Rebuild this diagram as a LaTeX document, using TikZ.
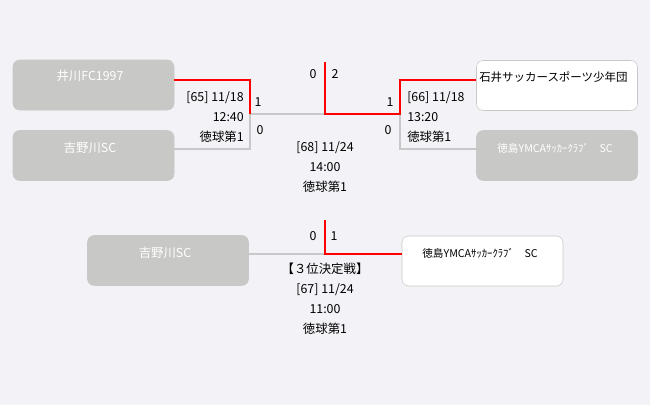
\documentclass[tikz,border=0pt]{standalone}
\usepackage{fontspec}
\setmainfont{Noto Sans CJK JP}
\usepackage{xcolor}
\usetikzlibrary{positioning}

\definecolor{bgcol}{RGB}{243,242,246}
\definecolor{boxgray}{RGB}{200,201,198}
\definecolor{linegray}{RGB}{200,200,200}
\definecolor{winred}{RGB}{255,0,0}

\tikzset{
  team/.style={draw=boxgray, fill=boxgray, rounded corners=5pt, minimum width=120.75pt, minimum height=37.5pt, inner sep=0pt},
  winner/.style={team, draw=linegray, fill=white},
  lose/.style={draw=linegray, line width=1.5pt},
  win/.style={draw=winred, line width=1.5pt},
  tname/.style={inner sep=0pt, font=\fontsize{9.3}{11}\selectfont},
  tsmall/.style={inner sep=0pt, font=\fontsize{8}{9}\selectfont},
  score/.style={inner sep=0pt, font=\fontsize{9.3}{11}\selectfont},
  info/.style={inner sep=0pt, font=\fontsize{9.3}{15}\selectfont}
}

\begin{document}
\begin{tikzpicture}[x=0.75pt,y=0.75pt,yscale=-1,xscale=1]
\fill[bgcol] (0,0) rectangle (650,405);
\useasboundingbox (0,0) rectangle (650,405);

% Teams
\node[team] (ikawa) at (93.5,85) {};
\node[team] (yoshino) at (93.5,155.5) {};
\node[winner] (ishii) at (557,85.5) {};
\node[team] (ymca) at (557,155.5) {};
\node[team] (yoshinob) at (168,260.5) {};
\node[winner] (ymcab) at (482.5,261) {};

\node[tname, text=white] (t1) at (90,76) {井川FC1997};
\node[tname, text=white] (t2) at (90,148) {吉野川SC};
\node[tname, font=\fontsize{8.6}{11}\selectfont, anchor=west] (t3) at (479,77) {石井サッカースポーツ少年団};
\node[tsmall, text=white] (t4) at (555,148) {徳島YMCAｻｯｶｰｸﾗﾌﾞ　SC};
\node[tname, text=white] (t5) at (165,253) {吉野川SC};
\node[tsmall] (t6) at (480,253) {徳島YMCAｻｯｶｰｸﾗﾌﾞ　SC};

% Bracket points
\coordinate (m65a) at (250,80);
\coordinate (m65b) at (250,149);
\coordinate (m65) at (250,114);
\coordinate (m68) at (325,114);
\coordinate (m68top) at (325,62);
\coordinate (m66) at (400,114);
\coordinate (m66a) at (400,80);
\coordinate (m66b) at (400,149);
\coordinate (m67) at (325,254);
\coordinate (m67top) at (325,220);

% Lines
\draw[lose] (yoshino.east |- m65b) -- (m65b) -- (m65) -- (m68);
\draw[win] (ikawa.east |- m65a) -- (m65a) -- (m65);
\draw[lose] (ymca.west |- m66b) -- (m66b) -- (m66);
\draw[win] (ishii.west |- m66a) -- (m66a) -- (m66) -- (m68) -- (m68top);
\draw[lose] (yoshinob.east |- m67) -- (m67);
\draw[win] (ymcab.west |- m67) -- (m67) -- (m67top);

% Scores
\node[score] (s1) at (313,74) {0};
\node[score] (s2) at (335,74) {2};
\node[score] (s3) at (258,102) {1};
\node[score] (s4) at (260,130) {0};
\node[score] (s5) at (390,102) {1};
\node[score] (s6) at (388,130) {0};
\node[score] (s7) at (313,236) {0};
\node[score] (s8) at (334,236) {1};

% Match info
\node[info, align=right, anchor=east] (i65) at (244,117) {[65] 11/18\\12:40\\徳球第1};
\node[info, align=left, anchor=west] (i66) at (407,117) {[66] 11/18\\13:20\\徳球第1};
\node[info, align=center] (i68) at (325,167.5) {[68] 11/24\\14:00\\徳球第1};
\node[info, align=center] (i67) at (325,298.5) {【３位決定戦】\\{}[67] 11/24\\11:00\\徳球第1};

\end{tikzpicture}
\end{document}
